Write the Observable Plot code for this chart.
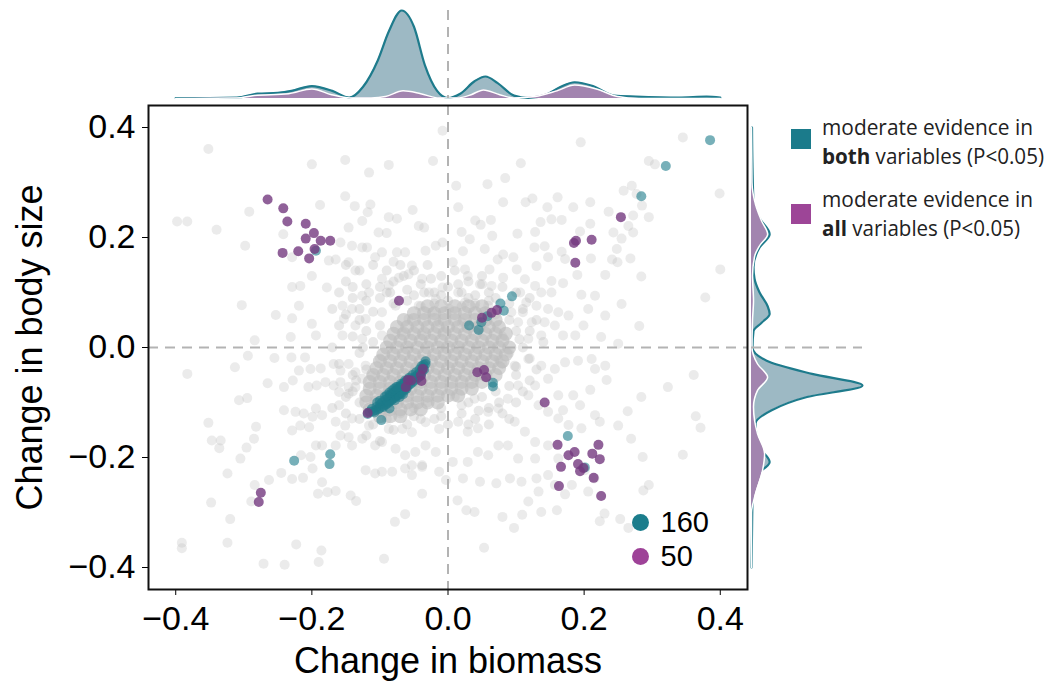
<!DOCTYPE html>
<html><head><meta charset="utf-8">
<script src="https://cdn.jsdelivr.net/npm/d3@7"></script>
<script src="https://cdn.jsdelivr.net/npm/@observablehq/plot@0.6"></script>
<style>
body{margin:0;background:#fff;}
#wrap{position:relative;width:1055px;height:684px;overflow:hidden;}
#wrap svg{position:absolute;background:transparent;}
</style></head><body><div id="wrap"></div>
<script>
// ---------- DATA ----------
const xTicks = [-0.4, -0.2, 0, 0.2, 0.4];
const yTicks = [-0.4, -0.2, 0, 0.2, 0.4];
const xTitle = "Change in biomass";
const yTitle = "Change in body size";
const counts = [160, 50];
const legendLines = [
  ["moderate evidence in", "both", " variables (P<0.05)"],
  ["moderate evidence in", "all", " variables (P<0.05)"]
];

// scattered background studies (grey)
const greyOuter = [
[-0.352,0.361],[-0.008,0.394],[-0.200,0.333],[-0.151,0.341],[-0.116,0.318],[-0.087,0.332],[-0.022,0.339],[-0.151,0.275],[-0.188,0.259],[-0.292,0.247],[-0.398,0.229],[-0.383,0.229],[-0.340,0.214],[-0.298,0.185],[-0.242,0.206],[-0.137,0.257],[-0.114,0.260],[-0.118,0.246],[-0.087,0.237],[-0.075,0.234],[-0.052,0.250],[-0.043,0.221],[-0.035,0.218],[-0.126,0.230],[-0.146,0.218],[-0.158,0.191],[-0.141,0.185],[-0.126,0.182],[-0.119,0.182],[-0.102,0.209],[-0.090,0.208],[-0.107,0.164],[-0.097,0.173],[-0.075,0.173],[-0.063,0.173],[-0.080,0.156],[-0.053,0.149],[-0.033,0.176],[-0.018,0.185],[-0.008,0.191],[-0.175,0.158],[-0.165,0.160],[-0.146,0.155],[-0.136,0.140],[-0.229,0.164],[-0.200,0.130],[-0.178,0.109],[-0.217,0.112],[-0.229,0.110],[-0.303,0.077],[-0.253,0.059],[-0.229,0.053],[-0.219,0.076],[-0.200,0.043],[-0.194,0.022],[-0.231,0.019],[-0.284,0.013],[-0.155,0.076],[-0.141,0.070],[-0.126,0.094],[-0.116,0.100],[-0.097,0.125],[-0.087,0.113],[-0.072,0.127],[-0.058,0.133],[-0.038,0.125],[-0.028,0.100],[-0.018,0.088],[-0.008,0.109],[-0.153,0.052],[-0.136,0.040],[-0.121,0.052],[-0.097,0.064],[-0.077,0.076],[-0.058,0.052],[-0.043,0.076],[-0.023,0.064],[-0.013,0.046],[-0.155,0.022],[-0.126,0.016],[-0.097,0.022],[-0.067,0.028],[-0.038,0.022],[-0.008,0.028],
[0.195,0.373],[0.345,0.382],[0.295,0.339],[0.304,0.333],[0.107,0.335],[0.084,0.308],[0.058,0.297],[0.012,0.294],[0.399,0.280],[0.258,0.285],[0.270,0.294],[0.277,0.279],[0.161,0.273],[0.124,0.271],[0.114,0.264],[0.081,0.264],[0.209,0.264],[0.015,0.255],[0.146,0.255],[0.184,0.255],[0.236,0.247],[0.285,0.258],[0.272,0.240],[0.295,0.237],[0.040,0.231],[0.063,0.232],[0.048,0.223],[0.136,0.228],[0.152,0.233],[0.167,0.232],[0.209,0.225],[0.194,0.211],[0.265,0.221],[0.272,0.209],[0.243,0.209],[0.255,0.198],[0.020,0.210],[0.032,0.197],[0.102,0.207],[0.065,0.203],[0.128,0.210],[0.142,0.184],[0.127,0.182],[0.248,0.179],[0.241,0.160],[0.268,0.162],[0.249,0.155],[0.022,0.175],[0.054,0.179],[0.081,0.169],[0.096,0.164],[0.167,0.174],[0.172,0.161],[0.210,0.162],[0.147,0.164],[0.007,0.155],[0.025,0.142],[0.061,0.142],[0.073,0.160],[0.101,0.142],[0.130,0.148],[0.400,0.142],[0.284,0.129],[0.231,0.132],[0.190,0.132],[0.169,0.117],[0.152,0.121],[0.378,0.091],[0.255,0.079],[0.216,0.094],[0.196,0.096],[0.113,0.124],[0.128,0.112],[0.137,0.100],[0.152,0.100],[0.029,0.130],[0.047,0.115],[0.064,0.112],[0.081,0.127],[0.106,0.100],[0.115,0.082],[0.130,0.076],[0.147,0.070],[0.162,0.064],[0.177,0.058],[0.206,0.070],[0.231,0.058],[0.199,0.040],[0.187,0.022],[0.169,0.022],[0.157,0.040],[0.142,0.046],[0.123,0.046],[0.110,0.064],[0.281,0.039],[0.225,0.019],[0.250,0.007],[0.015,0.100],[0.025,0.082],[0.039,0.076],[0.059,0.076],[0.093,0.064],[0.103,0.046],[0.118,0.016],[0.137,0.022],[0.049,0.052],[0.020,0.046],[0.002,0.070],
[-0.383,-0.048],[-0.313,-0.036],[-0.294,-0.015],[-0.255,-0.019],[-0.230,-0.018],[-0.210,-0.018],[-0.265,-0.065],[-0.241,-0.072],[-0.228,-0.060],[-0.307,-0.096],[-0.295,-0.092],[-0.219,-0.042],[-0.202,-0.039],[-0.187,-0.038],[-0.205,-0.072],[-0.193,-0.069],[-0.180,-0.063],[-0.168,-0.069],[-0.158,-0.063],[-0.146,-0.072],[-0.136,-0.072],[-0.160,-0.081],[-0.146,-0.084],[-0.168,-0.030],[-0.158,-0.042],[-0.146,-0.030],[-0.136,-0.045],[-0.121,-0.033],[-0.126,-0.057],[-0.112,-0.051],[-0.241,-0.114],[-0.224,-0.117],[-0.212,-0.120],[-0.194,-0.111],[-0.185,-0.123],[-0.199,-0.126],[-0.204,-0.145],[-0.229,-0.151],[-0.217,-0.142],[-0.160,-0.105],[-0.165,-0.135],[-0.151,-0.142],[-0.141,-0.129],[-0.146,-0.163],[-0.158,-0.160],[-0.165,-0.178],[-0.141,-0.178],[-0.126,-0.166],[-0.116,-0.142],[-0.352,-0.137],[-0.347,-0.169],[-0.334,-0.169],[-0.336,-0.183],[-0.282,-0.144],[-0.285,-0.166],[-0.296,-0.182],[-0.305,-0.202],[-0.324,-0.229],[-0.263,-0.241],[-0.284,-0.250],[-0.289,-0.280],[-0.348,-0.282],[-0.320,-0.312],[-0.324,-0.355],[-0.391,-0.355],[-0.391,-0.365],[-0.271,-0.393],[-0.240,-0.395],[-0.223,-0.358],[-0.186,-0.369],[-0.190,-0.390],[-0.094,-0.384],[-0.078,-0.317],[-0.063,-0.303],[-0.038,-0.266],[-0.013,-0.226],[-0.003,-0.241],[-0.018,-0.190],[-0.038,-0.217],[-0.053,-0.232],[-0.191,-0.266],[-0.177,-0.263],[-0.165,-0.261],[-0.143,-0.269],[-0.135,-0.279],[-0.185,-0.245],[-0.199,-0.220],[-0.213,-0.237],[-0.229,-0.239],[-0.245,-0.228],[-0.216,-0.196],[-0.202,-0.199],[-0.185,-0.178],[-0.194,-0.178],[-0.121,-0.223],[-0.107,-0.229],[-0.097,-0.226],[-0.082,-0.226],[-0.063,-0.220],[-0.053,-0.214],[-0.038,-0.214],[-0.107,-0.178],[-0.097,-0.172],[-0.077,-0.184],[-0.063,-0.196],[-0.048,-0.190],[-0.033,-0.178],[-0.087,-0.148],[-0.067,-0.148],[-0.053,-0.154],[-0.033,-0.136],[-0.013,-0.148],
[0.361,-0.050],[0.323,-0.072],[0.284,-0.090],[0.364,-0.125],[0.371,-0.146],[0.345,-0.195],[0.286,-0.199],[0.269,-0.166],[0.250,-0.142],[0.264,-0.116],[0.233,-0.059],[0.209,-0.077],[0.184,-0.087],[0.169,-0.114],[0.295,-0.250],[0.287,-0.260],[0.253,-0.312],[0.265,-0.328],[0.230,-0.302],[0.223,-0.316],[0.215,-0.238],[0.206,-0.262],[0.201,-0.223],[0.182,-0.250],[0.172,-0.267],[0.160,-0.296],[0.137,-0.299],[0.109,-0.304],[0.080,-0.308],[0.097,-0.328],[0.039,-0.299],[0.027,-0.296],[0.014,-0.278],[0.053,-0.364],[0.071,-0.247],[0.047,-0.244],[0.022,-0.238],[0.007,-0.208],[0.091,-0.238],[0.108,-0.244],[0.130,-0.238],[0.147,-0.232],[0.157,-0.250],[0.133,-0.262],[0.118,-0.280],[0.194,-0.105],[0.216,-0.123],[0.223,-0.135],[0.196,-0.147],[0.177,-0.141],[0.162,-0.129],[0.147,-0.117],[0.133,-0.105],[0.118,-0.087],[0.103,-0.069],[0.128,-0.069],[0.147,-0.057],[0.162,-0.087],[0.088,-0.093],[0.074,-0.111],[0.059,-0.117],[0.044,-0.147],[0.029,-0.153],[0.015,-0.135],[0.020,-0.105],[0.039,-0.093],[0.098,-0.135],[0.113,-0.153],[0.128,-0.172],[0.147,-0.178],[0.162,-0.202],[0.128,-0.202],[0.103,-0.202],[0.088,-0.178],[0.074,-0.178],[0.059,-0.196],[0.044,-0.190],[0.029,-0.208],[0.118,-0.021],[0.137,-0.033],[0.157,-0.039],[0.172,-0.027],[0.191,-0.024],[0.211,-0.021],[0.216,-0.039],[0.231,-0.033],[0.098,-0.033],[0.074,-0.021]
];

// busier zone round the centre (grey)
const greyRing = [
[-0.15,0.15],[-0.13,0.14],[-0.11,0.15],[-0.09,0.14],[-0.07,0.15],[-0.05,0.14],[-0.03,0.15],[-0.01,0.13],[0.01,0.14],[0.03,0.12],[0.05,0.13],
[-0.15,0.12],[-0.12,0.115],[-0.10,0.11],[-0.08,0.12],[-0.06,0.105],[-0.04,0.115],[-0.02,0.10],[0.0,0.11],[0.02,0.10],[0.04,0.095],[0.06,0.10],[0.08,0.11],
[-0.14,0.09],[-0.12,0.085],[-0.10,0.09],[-0.08,0.08],[-0.06,0.085],[-0.04,0.075],[-0.02,0.08],[0.0,0.085],[0.02,0.075],[0.04,0.08],[0.06,0.085],[0.09,0.08],[0.11,0.07],
[-0.15,0.06],[-0.13,0.05],[-0.11,0.065],[-0.12,0.03],[-0.10,0.04],[-0.14,0.02],[-0.11,0.01],[-0.13,-0.01],[-0.10,-0.02],[-0.12,-0.04],[-0.14,-0.05],
[0.07,0.06],[0.09,0.05],[0.10,0.03],[0.08,0.02],[0.11,0.0],[0.09,-0.01],[0.12,-0.02],[0.08,-0.03],[0.10,-0.05],[0.07,-0.08],[0.09,-0.07],[0.12,-0.06],
[-0.03,-0.10],[-0.01,-0.11],[0.01,-0.09],[0.03,-0.10],[0.05,-0.09],[0.02,-0.12],[0.04,-0.13],[0.06,-0.11],[-0.02,-0.13],[0.0,-0.14],[0.08,-0.12],[0.06,-0.14],
[-0.14,-0.08],[-0.13,-0.10],[-0.15,-0.12],[-0.13,-0.13],[-0.11,-0.14],[-0.09,-0.13],[-0.07,-0.12],[-0.05,-0.11],[-0.08,-0.15],[-0.06,-0.14],[-0.04,-0.13],
[-0.16,0.10],[-0.17,0.07],[-0.16,0.04],[-0.17,0.0],[-0.16,-0.03],[-0.15,-0.09],[-0.17,-0.11],[-0.12,-0.16],[-0.10,-0.17],[-0.14,0.11],[-0.09,0.10],[-0.05,0.095],
[-0.01,0.095],[0.03,0.09],[0.07,0.09],[0.10,0.10],[0.12,0.09],[0.13,0.05],[0.12,0.03],[0.14,0.01],[0.13,-0.04],[0.11,-0.08],[0.10,-0.10],[0.09,-0.13],
[0.03,-0.14],[-0.01,-0.125],[-0.05,-0.125],[-0.13,0.07],[-0.125,0.0],[-0.135,-0.06],[0.105,0.015],[0.10,-0.035],[-0.085,0.10],[-0.035,0.10],[0.015,0.115],
[0.05,0.115],[-0.065,0.13],[-0.025,0.125],[0.075,-0.10],[0.045,-0.115]
];

// dense core, listed row by row: [y, [x values]]
const greyCoreRows = [
[0.075,[-0.03,-0.01,0.01,0.03,0.05]],
[0.0625,[-0.05,-0.035,-0.02,-0.005,0.01,0.025,0.04,0.055]],
[0.05,[-0.065,-0.05,-0.035,-0.02,-0.005,0.01,0.025,0.04,0.055,0.07]],
[0.0375,[-0.075,-0.06,-0.045,-0.03,-0.015,0.0,0.015,0.03,0.045,0.06,0.075]],
[0.025,[-0.08,-0.065,-0.05,-0.035,-0.02,-0.005,0.01,0.025,0.04,0.055,0.07,0.085]],
[0.0125,[-0.085,-0.07,-0.055,-0.04,-0.025,-0.01,0.005,0.02,0.035,0.05,0.065,0.08]],
[0.0,[-0.09,-0.075,-0.06,-0.045,-0.03,-0.015,0.0,0.015,0.03,0.045,0.06,0.075,0.09]],
[-0.0125,[-0.095,-0.08,-0.065,-0.05,-0.035,-0.02,-0.005,0.01,0.025,0.04,0.055,0.07,0.085]],
[-0.025,[-0.1,-0.085,-0.07,-0.055,-0.04,-0.025,-0.01,0.005,0.02,0.035,0.05,0.065,0.08]],
[-0.0375,[-0.105,-0.09,-0.075,-0.06,-0.045,-0.03,-0.015,0.0,0.015,0.03,0.045,0.06,0.075]],
[-0.05,[-0.11,-0.095,-0.08,-0.065,-0.05,-0.035,-0.02,-0.005,0.01,0.025,0.04,0.055,0.07]],
[-0.0625,[-0.115,-0.1,-0.085,-0.07,-0.055,-0.04,-0.025,-0.01,0.005,0.02,0.035,0.05]],
[-0.075,[-0.115,-0.1,-0.085,-0.07,-0.055,-0.04,-0.025,-0.01,0.005,0.02,0.035]],
[-0.0875,[-0.12,-0.105,-0.09,-0.075,-0.06,-0.045,-0.03,-0.015,0.0,0.015]],
[-0.1,[-0.12,-0.105,-0.09,-0.075,-0.06,-0.045,-0.03,-0.015]],
[-0.1125,[-0.115,-0.1,-0.085,-0.07,-0.055,-0.04]],
[-0.125,[-0.1,-0.085,-0.07]]
];

// moderate evidence in both variables (teal)
const bothPoints = [
[0.385,0.377],[0.320,0.330],[0.284,0.275],
[0.094,0.093],[0.077,0.080],[0.082,0.067],[0.049,0.046],[0.031,0.040],[0.045,0.032],[0.058,0.057],
[0.066,-0.064],[0.066,-0.071],[0.176,-0.161],[0.201,-0.218],
[-0.194,0.176],
[-0.226,-0.206],[-0.173,-0.194],[-0.174,-0.212],
[-0.098,-0.132],[-0.086,-0.111],
[-0.118,-0.121],[-0.112,-0.112],[-0.108,-0.118],[-0.105,-0.108],[-0.100,-0.104],[-0.102,-0.112],[-0.097,-0.100],[-0.095,-0.108],[-0.092,-0.095],[-0.090,-0.102],
[-0.088,-0.092],[-0.086,-0.098],[-0.084,-0.088],[-0.082,-0.094],[-0.080,-0.085],[-0.079,-0.090],[-0.077,-0.082],[-0.076,-0.088],[-0.074,-0.079],[-0.073,-0.085],
[-0.071,-0.076],[-0.070,-0.082],[-0.069,-0.073],[-0.068,-0.079],[-0.066,-0.070],[-0.065,-0.076],[-0.063,-0.068],[-0.062,-0.073],[-0.060,-0.065],[-0.059,-0.070],
[-0.057,-0.062],[-0.056,-0.067],[-0.054,-0.059],[-0.053,-0.064],[-0.051,-0.056],[-0.050,-0.061],[-0.048,-0.053],[-0.046,-0.057],[-0.045,-0.050],[-0.043,-0.054],
[-0.041,-0.046],[-0.040,-0.051],[-0.038,-0.043],[-0.037,-0.037],[-0.035,-0.040],[-0.033,-0.030],[-0.033,-0.025],
[-0.085,-0.086],[-0.081,-0.083],[-0.078,-0.080],[-0.075,-0.077],[-0.072,-0.074],[-0.070,-0.070],[-0.067,-0.067],[-0.064,-0.064],[-0.061,-0.061],[-0.058,-0.058],
[-0.083,-0.096],[-0.079,-0.092],[-0.075,-0.088],[-0.072,-0.086],[-0.068,-0.083],[-0.064,-0.078],[-0.061,-0.075],[-0.088,-0.097],[-0.092,-0.104],[-0.096,-0.106],
[-0.100,-0.110],[-0.106,-0.114],[-0.110,-0.116],[-0.115,-0.117],[-0.087,-0.100],[-0.078,-0.096],[-0.071,-0.090],[-0.066,-0.085],[-0.074,-0.072],[-0.069,-0.066],
[-0.063,-0.060],[-0.057,-0.055],[-0.052,-0.050],[-0.047,-0.045],[-0.042,-0.040],[-0.039,-0.034],[-0.036,-0.032],[-0.093,-0.090],[-0.090,-0.087],[-0.086,-0.082],
[-0.082,-0.078],[-0.079,-0.075],[-0.076,-0.072],[-0.100,-0.097],[-0.104,-0.100]
];

// moderate evidence in all variables (purple)
const allPoints = [
[-0.265,0.269],[-0.242,0.253],[-0.236,0.229],[-0.209,0.225],[-0.197,0.208],[-0.209,0.198],[-0.187,0.194],[-0.173,0.194],[-0.243,0.172],[-0.220,0.175],[-0.196,0.179],[-0.204,0.162],
[-0.072,0.085],
[0.254,0.237],[0.188,0.194],[0.185,0.190],[0.211,0.196],[0.187,0.154],
[0.072,0.068],[0.064,0.063],[0.050,0.054],
[0.043,-0.045],[0.053,-0.041],[0.056,-0.054],
[0.142,-0.100],
[0.161,-0.177],[0.221,-0.177],[0.186,-0.190],[0.177,-0.196],[0.212,-0.193],[0.223,-0.203],[0.166,-0.217],[0.191,-0.212],[0.194,-0.225],[0.199,-0.219],[0.214,-0.237],[0.163,-0.252],[0.225,-0.270],
[-0.037,-0.039],[-0.040,-0.051],[-0.039,-0.061],[-0.054,-0.060],[-0.059,-0.059],[-0.062,-0.072],[-0.118,-0.119],
[-0.275,-0.264],[-0.278,-0.281]
];

// marginal densities (relative units)
const densityTopBoth = [[-0.40,0.05],[-0.35,0.05],[-0.31,0.1],[-0.28,0.5],[-0.25,0.6],[-0.23,0.8],[-0.20,1.3],[-0.17,0.8],[-0.145,0.1],[-0.125,1.2],[-0.103,4.0],[-0.087,7.0],[-0.068,9.2],[-0.050,7.5],[-0.034,3.5],[-0.016,0.8],[0.0,0.05],[0.018,0.5],[0.039,1.8],[0.055,2.3],[0.073,1.6],[0.097,0.3],[0.118,0.05],[0.144,0.4],[0.165,1.2],[0.186,1.7],[0.213,1.3],[0.244,0.3],[0.276,0.2],[0.34,0.1],[0.38,0.2],[0.40,0.1]];
const densityTopAll = [[-0.40,0.0],[-0.31,0.05],[-0.287,0.3],[-0.234,0.5],[-0.20,1.0],[-0.171,0.4],[-0.144,0.05],[-0.113,0.05],[-0.092,0.2],[-0.066,0.8],[-0.040,0.5],[-0.013,0.05],[0.013,0.05],[0.034,0.4],[0.052,0.9],[0.076,0.4],[0.097,0.05],[0.128,0.2],[0.160,0.8],[0.186,1.4],[0.218,1.0],[0.249,0.2],[0.28,0.0],[0.40,0.0]];
const densityRightBoth = [[0.40,0.05],[0.327,0.1],[0.267,0.2],[0.235,0.8],[0.206,1.8],[0.182,0.8],[0.146,0.2],[0.125,0.3],[0.10,0.8],[0.075,1.6],[0.061,1.8],[0.045,1.0],[0.03,0.2],[0.0,0.1],[-0.024,1.5],[-0.048,6.0],[-0.069,11.0],[-0.090,5.5],[-0.114,2.0],[-0.138,0.4],[-0.181,0.8],[-0.208,1.8],[-0.235,0.4],[-0.278,0.1],[-0.338,0.05],[-0.40,0.0]];
const densityRightAll = [[0.40,0.0],[0.30,0.05],[0.26,0.4],[0.23,1.0],[0.206,1.6],[0.185,0.8],[0.165,0.3],[0.13,0.1],[0.085,0.2],[0.05,0.1],[0.0,0.05],[-0.03,0.6],[-0.054,1.6],[-0.078,0.6],[-0.108,0.2],[-0.132,0.3],[-0.157,0.6],[-0.193,1.3],[-0.223,1.1],[-0.266,0.4],[-0.30,0.0],[-0.40,0.0]];

// ---------- DRAW ----------
const greyCore = greyCoreRows.flatMap(([y, xs]) => xs.map(x => [x, y]));
const domain = [-0.44, 0.44];
const fmt = d3.format(".1f");
const TEAL = "#1c7b8b", PURPLE = "#74397f";
const dash = {stroke: "#b3b3b3", strokeWidth: 2, strokeDasharray: "10,7"};
const font = "'Liberation Sans', Arial, Helvetica, sans-serif";
const wrap = document.getElementById("wrap");

const mainPlot = Plot.plot({
  width: 1055, height: 684,
  marginLeft: 148, marginRight: 308, marginTop: 105, marginBottom: 95,
  style: {fontSize: "34px", fontFamily: font, background: "transparent", color: "#000", overflow: "visible"},
  x: {domain, ticks: xTicks, tickFormat: fmt, tickSize: 6, tickPadding: 10, label: null},
  y: {domain, ticks: yTicks, tickFormat: fmt, tickSize: 6, tickPadding: 7, label: null},
  marks: [
    Plot.dot(greyOuter, {x: d => d[0], y: d => d[1], r: 5, fill: "#bdbdbd", fillOpacity: 0.3}),
    Plot.dot(greyRing, {x: d => d[0], y: d => d[1], r: 5, fill: "#bdbdbd", fillOpacity: 0.35}),
    Plot.dot(greyCore, {x: d => d[0], y: d => d[1], r: 7, fill: "#bdbdbd", fillOpacity: 0.62}),
    Plot.ruleX([0], dash),
    Plot.ruleY([0], dash),
    Plot.dot(bothPoints, {x: d => d[0], y: d => d[1], r: 5, fill: TEAL, fillOpacity: 0.6}),
    Plot.dot(allPoints, {x: d => d[0], y: d => d[1], r: 5, fill: PURPLE, fillOpacity: 0.8}),
    Plot.frame({stroke: "#111", strokeWidth: 2}),
    Plot.dot([counts[0]], {frameAnchor: "bottom-right", dx: -107, dy: -67, r: 8.5, fill: "#1b7d8c"}),
    Plot.dot([counts[1]], {frameAnchor: "bottom-right", dx: -107, dy: -33, r: 8.5, fill: "#9e4298"}),
    Plot.text([counts[0]], {frameAnchor: "bottom-right", dx: -87, dy: -67, text: d => String(d), textAnchor: "start", lineAnchor: "middle", fontSize: 29, fill: "#000"}),
    Plot.text([counts[1]], {frameAnchor: "bottom-right", dx: -87, dy: -33, text: d => String(d), textAnchor: "start", lineAnchor: "middle", fontSize: 29, fill: "#000"}),
    Plot.text([xTitle], {frameAnchor: "bottom", dy: 72, text: d => d, textAnchor: "middle", lineAnchor: "middle", fontSize: 36, fill: "#000"}),
    Plot.text([yTitle], {frameAnchor: "left", dx: -118, text: d => d, rotate: -90, textAnchor: "middle", lineAnchor: "middle", fontSize: 36, fill: "#000"})
  ]
});
mainPlot.style.left = "0px"; mainPlot.style.top = "0px";
wrap.appendChild(mainPlot);

const topPanel = Plot.plot({
  width: 1055, height: 104,
  marginLeft: 148, marginRight: 308, marginTop: 10, marginBottom: 6,
  style: {background: "transparent", overflow: "visible"},
  x: {domain, axis: null},
  y: {domain: [0, 9.2], axis: null},
  marks: [
    Plot.areaY(densityTopBoth, {x: d => d[0], y: d => d[1], curve: "monotone-x", fill: "#9db9c4"}),
    Plot.lineY(densityTopBoth, {x: d => d[0], y: d => d[1], curve: "monotone-x", stroke: "#1e7b8c", strokeWidth: 2.2}),
    Plot.areaY(densityTopAll, {x: d => d[0], y: d => d[1], curve: "monotone-x", fill: "#a284af"}),
    Plot.lineY(densityTopAll, {x: d => d[0], y: d => d[1], curve: "monotone-x", stroke: "#fff", strokeWidth: 1.5}),
    Plot.ruleX([0], dash)
  ]
});
topPanel.style.left = "0px"; topPanel.style.top = "0px";
wrap.appendChild(topPanel);

const rightPanel = Plot.plot({
  width: 308, height: 684,
  marginLeft: 4, marginRight: 193, marginTop: 105, marginBottom: 95,
  style: {background: "transparent", overflow: "visible"},
  x: {domain: [0, 11], axis: null},
  y: {domain, axis: null},
  marks: [
    Plot.areaX(densityRightBoth, {y: d => d[0], x: d => d[1], curve: "monotone-y", fill: "#9db9c4"}),
    Plot.lineX(densityRightBoth, {y: d => d[0], x: d => d[1], curve: "monotone-y", stroke: "#1e7b8c", strokeWidth: 2.2}),
    Plot.areaX(densityRightAll, {y: d => d[0], x: d => d[1], curve: "monotone-y", fill: "#a284af"}),
    Plot.lineX(densityRightAll, {y: d => d[0], x: d => d[1], curve: "monotone-y", stroke: "#fff", strokeWidth: 1.5}),
    Plot.ruleY([0], dash)
  ]
});
rightPanel.style.left = "747px"; rightPanel.style.top = "0px";
wrap.appendChild(rightPanel);

// legend
const leg = d3.create("svg").attr("width", 1055).attr("height", 684)
  .style("left", "0px").style("top", "0px").style("pointer-events", "none");
const legItems = [
  {color: "#1b7b8b", sq: 129, b1: 135, b2: 164, w1: 211, w2: 222},
  {color: "#9d4597", sq: 204, b1: 207, b2: 236, w1: 211, w2: 198}
];
legItems.forEach((it, i) => {
  leg.append("rect").attr("x", 791).attr("y", it.sq).attr("width", 20).attr("height", 20).attr("fill", it.color);
  leg.append("text").attr("x", 822).attr("y", it.b1).attr("font-family", "'Open Sans', sans-serif").attr("font-size", 22)
    .attr("fill", "#222").attr("textLength", it.w1).attr("lengthAdjust", "spacingAndGlyphs").text(legendLines[i][0]);
  const t = leg.append("text").attr("x", 822).attr("y", it.b2).attr("font-family", "'Open Sans', sans-serif").attr("font-size", 22)
    .attr("fill", "#222").attr("textLength", it.w2).attr("lengthAdjust", "spacingAndGlyphs");
  t.append("tspan").attr("font-weight", "bold").text(legendLines[i][1]);
  t.append("tspan").text(legendLines[i][2]);
});
wrap.appendChild(leg.node());
</script></body></html>
